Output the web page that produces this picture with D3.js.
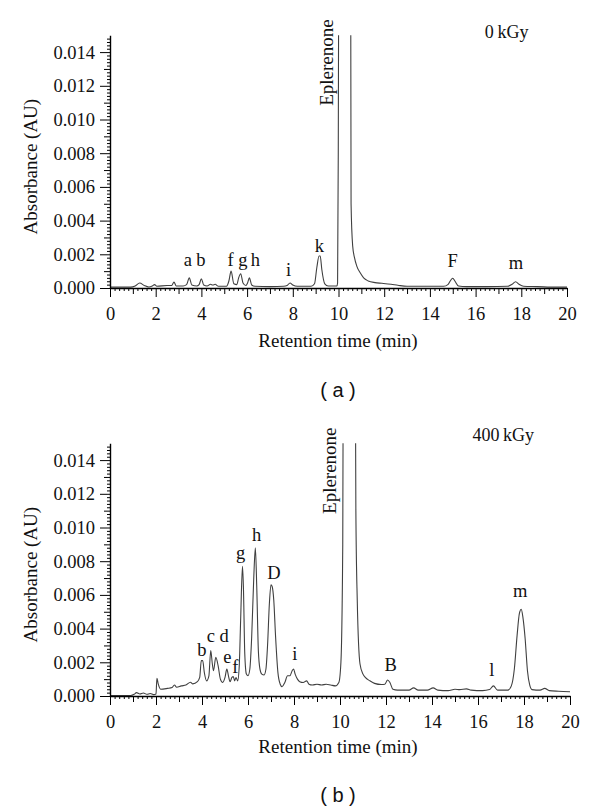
<!DOCTYPE html>
<html><head><meta charset="utf-8">
<script src="https://cdn.jsdelivr.net/npm/d3@7/dist/d3.min.js"></script>
<style>body{margin:0;background:#fff}</style>
</head><body><svg id="chart" width="600" height="810"></svg>
<script>
// ---------- DATA ----------
const xTickValues = [0, 2, 4, 6, 8, 10, 12, 14, 16, 18, 20];
const yTickValues = [0, 0.002, 0.004, 0.006, 0.008, 0.010, 0.012, 0.014];

// Panel (a) 0 kGy
const timesA = [0, 0.9, 1.1, 1.3, 1.5, 1.7, 1.85, 1.95, 2.05, 2.5, 2.7, 2.8, 2.9, 3.2, 3.35, 3.47, 3.58, 3.8, 3.9, 4.0, 4.1, 4.25, 4.4, 4.5, 4.6, 4.75, 5.1, 5.2, 5.3, 5.42, 5.55, 5.63, 5.72, 5.82, 5.95, 6.02, 6.1, 6.2, 6.35, 7.0, 7.6, 7.75, 7.88, 8.0, 8.2, 8.8, 8.95, 9.05, 9.15, 9.2, 9.27, 9.4, 9.55, 9.93, 9.96, 9.99, 10.03, 10.3, 10.52, 10.55, 10.62, 10.7, 10.8, 10.95, 11.1, 11.3, 11.6, 11.9, 12.3, 12.6, 13.0, 14.0, 14.6, 14.8, 14.93, 15.0, 15.1, 15.25, 15.6, 16.5, 17.4, 17.6, 17.75, 17.9, 18.1, 18.7, 19.5, 20];
const absA = [0.00005, 0.00005, 0.00012, 0.0003, 0.00015, 0.00006, 0.00012, 0.0002, 0.0001, 0.00015, 0.00015, 0.00035, 0.00012, 0.00012, 0.0002, 0.0006, 0.00018, 0.00012, 0.0002, 0.00055, 0.00018, 0.00012, 0.00022, 0.00018, 0.00022, 0.0001, 0.0001, 0.0004, 0.001, 0.00025, 0.0002, 0.0006, 0.00085, 0.0003, 0.00015, 0.0003, 0.0006, 0.00018, 0.0001, 0.00008, 0.0001, 0.00015, 0.0003, 0.00018, 0.0001, 0.0001, 0.00025, 0.0012, 0.0019, 0.0019, 0.0011, 0.00025, 0.00012, 0.00012, 0.0003, 0.008, 0.03, 0.06, 0.03, 0.005, 0.0025, 0.0018, 0.0013, 0.0009, 0.0006, 0.00042, 0.00032, 0.00028, 0.00022, 0.00016, 0.0001, 0.0001, 0.0001, 0.00022, 0.0005, 0.00058, 0.0004, 0.00012, 0.00008, 0.00008, 0.0001, 0.00022, 0.00037, 0.00022, 0.0001, 0.00008, 0.00005, 0.00005];
const peakNamesA = ["a", "b", "f", "g", "h", "i", "k", "F", "m"];
const peakTimesA = [3.41, 3.98, 5.28, 5.81, 6.36, 7.82, 9.16, 15.0, 17.77];
const peakLabelAbsA = [0.0013, 0.0013, 0.00132, 0.00132, 0.00132, 0.00071, 0.00215, 0.00126, 0.00115];

// Panel (b) 400 kGy
const timesB = [0, 0.9, 1.05, 1.15, 1.3, 1.45, 1.6, 1.75, 1.9, 2.0, 2.04, 2.1, 2.2, 2.5, 2.7, 2.8, 2.9, 3.1, 3.3, 3.5, 3.6, 3.8, 3.9, 3.97, 4.03, 4.1, 4.2, 4.3, 4.38, 4.45, 4.5, 4.6, 4.7, 4.8, 4.9, 5.0, 5.08, 5.15, 5.22, 5.3, 5.36, 5.42, 5.48, 5.55, 5.62, 5.68, 5.76, 5.8, 5.86, 5.93, 6.0, 6.08, 6.16, 6.25, 6.32, 6.38, 6.45, 6.52, 6.6, 6.7, 6.78, 6.85, 6.93, 7.0, 7.05, 7.12, 7.2, 7.3, 7.4, 7.48, 7.6, 7.72, 7.82, 7.92, 7.98, 8.05, 8.15, 8.25, 8.4, 8.55, 8.65, 8.8, 9.0, 9.2, 9.4, 9.6, 9.8, 9.95, 10.04, 10.12, 10.16, 10.4, 10.64, 10.69, 10.75, 10.87, 11.0, 11.1, 11.3, 11.5, 11.8, 11.95, 12.07, 12.17, 12.3, 12.5, 13.0, 13.2, 13.4, 13.8, 14.05, 14.25, 14.7, 15.0, 15.2, 15.5, 15.7, 16.2, 16.5, 16.67, 16.85, 17.3, 17.45, 17.58, 17.7, 17.8, 17.88, 17.95, 18.05, 18.15, 18.25, 18.35, 18.7, 18.9, 19.1, 19.5, 20];
const absB = [0.00003, 0.00003, 0.0001, 0.0002, 0.00012, 0.00018, 0.0001, 0.00015, 0.00008, 0.00012, 0.00105, 0.0007, 0.0004, 0.00045, 0.0005, 0.00065, 0.00052, 0.0006, 0.00065, 0.00082, 0.00072, 0.00085, 0.0011, 0.0021, 0.0021, 0.0014, 0.0009, 0.0012, 0.0027, 0.0019, 0.0015, 0.0023, 0.0018, 0.001, 0.0008, 0.0011, 0.0016, 0.0012, 0.00085, 0.0011, 0.00115, 0.0009, 0.0011, 0.0009, 0.0018, 0.0045, 0.0077, 0.0065, 0.0025, 0.0013, 0.0012, 0.0016, 0.0035, 0.007, 0.0088, 0.0065, 0.0027, 0.0016, 0.0013, 0.00125, 0.0016, 0.003, 0.0055, 0.0066, 0.0065, 0.0057, 0.0035, 0.0014, 0.0007, 0.00055, 0.0008, 0.0012, 0.0012, 0.0015, 0.0016, 0.0013, 0.001, 0.00085, 0.0008, 0.0009, 0.0007, 0.00065, 0.0007, 0.00065, 0.0007, 0.00065, 0.0006, 0.0008, 0.002, 0.009, 0.03, 0.06, 0.03, 0.011, 0.0057, 0.0019, 0.0013, 0.0011, 0.0009, 0.00075, 0.00068, 0.0007, 0.00095, 0.0008, 0.0004, 0.00035, 0.00035, 0.00048, 0.00035, 0.00035, 0.00048, 0.00035, 0.00032, 0.0004, 0.00038, 0.00042, 0.00035, 0.00032, 0.00038, 0.0006, 0.00035, 0.00035, 0.0006, 0.0016, 0.0036, 0.0049, 0.00515, 0.0047, 0.0034, 0.0015, 0.00065, 0.00038, 0.00035, 0.00045, 0.00032, 0.00028, 0.00025];
const peakNamesB = ["b", "c", "d", "e", "f", "g", "h", "D", "i", "B", "l", "m"];
const peakTimesB = [3.99, 4.38, 4.96, 5.1, 5.45, 5.68, 6.38, 7.13, 8.04, 12.2, 16.6, 17.83];
const peakLabelAbsB = [0.00237, 0.00322, 0.00322, 0.00198, 0.00135, 0.00811, 0.00922, 0.00694, 0.00214, 0.0015, 0.0012, 0.00586];

// ---------- DRAW ----------
const svg = d3.select("#chart");
svg.append("rect").attr("width", 600).attr("height", 810).attr("fill", "#fff");
const serif = "'Liberation Serif', 'Times New Roman', serif";

const panels = [
  {id: "a", times: timesA, abs: absA, names: peakNamesA, pt: peakTimesA, pv: peakLabelAbsA,
   x0: 110, x1: 567, y0: 288, dose: "0\u2009kGy", doseT: 17.36, doseV: 0.01482,
   eplT: 9.76, eplV: 0.01338, caption: "( a )", capY: 397, titleY: 347},
  {id: "b", times: timesB, abs: absB, names: peakNamesB, pt: peakTimesB, pv: peakLabelAbsB,
   x0: 110, x1: 570, y0: 696, dose: "400\u2009kGy", doseT: 17.1, doseV: 0.01515,
   eplT: 9.83, eplV: 0.01337, caption: "( b )", capY: 802, titleY: 753}
];

panels.forEach(p => {
  const x = d3.scaleLinear().domain([0, 20]).range([p.x0, p.x1]);
  const y = d3.scaleLinear().domain([0, 0.015]).range([p.y0, p.y0 - 7.5 * 33.7]);
  const g = svg.append("g");

  g.append("clipPath").attr("id", "clip" + p.id)
    .append("rect").attr("x", x(0)).attr("y", y(0.015)).attr("width", x(20) - x(0)).attr("height", y(0) - y(0.015) + 2);

  const pts = p.times.map((t, i) => [t, p.abs[i]]);
  g.append("path").datum(pts)
    .attr("clip-path", `url(#clip${p.id})`)
    .attr("fill", "none").attr("stroke", "#404040").attr("stroke-width", 1.1)
    .attr("stroke-linejoin", "round")
    .attr("d", d3.line().x(d => x(d[0])).y(d => y(d[1])).curve(d3.curveMonotoneX));

  const xMinor = d3.range(0, 101).map(i => +(i * 0.2).toFixed(1)).filter(v => Math.abs(v - Math.round(v)) > 1e-6);
  const xMid = d3.range(1, 20, 2);
  const gx = g.append("g").attr("transform", `translate(0,${y(0)})`);
  gx.append("g").call(d3.axisBottom(x).tickValues(xMinor).tickSize(3).tickFormat("")).call(s => s.select(".domain").remove());
  gx.append("g").call(d3.axisBottom(x).tickValues(xMid).tickSize(6).tickFormat("")).call(s => s.select(".domain").remove());
  gx.append("g").call(d3.axisBottom(x).tickValues(xTickValues).tickSize(9).tickSizeOuter(0).tickPadding(10).tickFormat(d3.format("d")));

  const yMinor = d3.range(0, 76).map(i => i * 0.0002).filter(v => Math.abs(v / 0.001 - Math.round(v / 0.001)) > 1e-6);
  const yMid = d3.range(1, 15, 2).map(i => i * 0.001);
  const gy = g.append("g").attr("transform", `translate(${x(0)},0)`);
  gy.append("g").call(d3.axisLeft(y).tickValues(yMinor).tickSize(3).tickFormat("")).call(s => s.select(".domain").remove());
  gy.append("g").call(d3.axisLeft(y).tickValues(yMid).tickSize(6).tickFormat("")).call(s => s.select(".domain").remove());
  gy.append("g").call(d3.axisLeft(y).tickValues(yTickValues).tickSize(10).tickSizeOuter(0).tickPadding(5).tickFormat(d3.format(".3f")));

  g.selectAll(".domain").attr("stroke", "#000").attr("stroke-width", 1.4);
  g.selectAll(".tick line").attr("stroke", "#000").attr("stroke-width", 1);
  g.selectAll(".tick text").attr("font-family", serif).attr("font-size", 18.5).attr("fill", "#111");

  g.append("text").attr("x", 338).attr("y", p.titleY).attr("text-anchor", "middle")
    .attr("font-family", serif).attr("font-size", 19).attr("fill", "#111").text("Retention time (min)");
  g.append("text").attr("transform", `translate(37,${(y(0) + y(0.015)) / 2 + 5}) rotate(-90)`)
    .attr("text-anchor", "middle").attr("font-family", serif).attr("font-size", 19).attr("fill", "#111")
    .text("Absorbance (AU)");

  g.selectAll("text.peak").data(p.names).enter().append("text").attr("class", "peak")
    .attr("x", (d, i) => x(p.pt[i])).attr("y", (d, i) => y(p.pv[i]))
    .attr("text-anchor", "middle").attr("font-family", serif).attr("font-size", 18.5).attr("fill", "#111")
    .text(d => d);

  g.append("text").attr("transform", `translate(${x(p.eplT)},${y(p.eplV)}) rotate(-90)`)
    .attr("text-anchor", "middle").attr("font-family", serif).attr("font-size", 19).attr("fill", "#111")
    .text("Eplerenone");

  g.append("text").attr("x", x(p.doseT)).attr("y", y(p.doseV)).attr("text-anchor", "middle")
    .attr("font-family", serif).attr("font-size", 18).attr("fill", "#111").text(p.dose);

  g.append("text").attr("x", 338).attr("y", p.capY).attr("text-anchor", "middle")
    .attr("font-family", "'Liberation Sans', Arial, sans-serif").attr("font-size", 20).attr("fill", "#111")
    .attr("xml:space", "preserve").text(p.caption);
});
</script></body></html>
